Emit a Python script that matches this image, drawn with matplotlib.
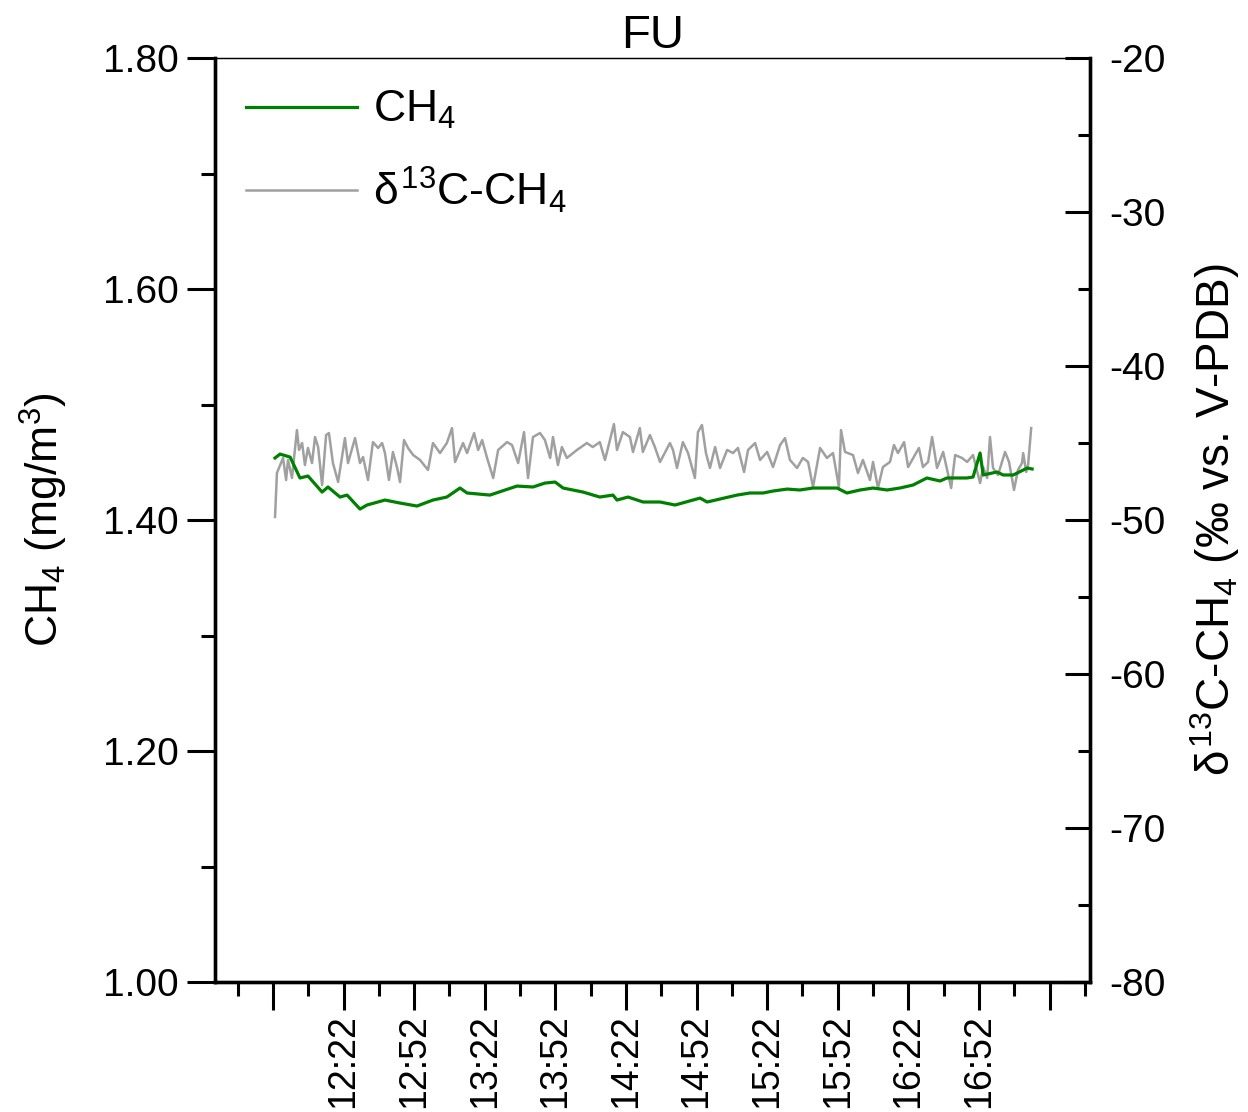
import numpy as np
import matplotlib
matplotlib.use("Agg")
import matplotlib.pyplot as plt
from matplotlib.ticker import FixedLocator, FuncFormatter

plt.rcParams["font.family"] = ["Liberation Sans", "DejaVu Sans"]
plt.rcParams["mathtext.fontset"] = "custom"
plt.rcParams["mathtext.rm"] = "Liberation Sans"
plt.rcParams["mathtext.it"] = "Liberation Sans"
plt.rcParams["axes.unicode_minus"] = False

# clock minutes since midnight of first sample reference (11:52)
start_min = 712

# delta13C-CH4 (per mil), minutes after 11:52
d13_minutes = [0.9, 1.7, 4.3, 5.6, 6.4, 8.1, 10.2, 11.1, 12.4, 13.6, 14.9, 16.6, 17.9, 19.2,
               20.9, 22.6, 23.8, 25.5, 27.7, 30.6, 31.9, 34.9, 37.0, 38.3, 40.4, 42.5, 44.7,
               46.4, 47.6, 49.3, 51.0, 52.7, 54.0, 55.7, 57.4, 59.6, 62.5, 65.9, 68.0, 71.0,
               73.9, 76.1, 77.4, 80.8, 82.5, 85.5, 87.2, 88.9, 91.0, 93.6, 95.7, 99.5, 101.6,
               104.2, 106.7, 108.4, 110.5, 113.5, 115.6, 117.8, 119.0, 121.1, 122.8, 124.9,
               129.2, 133.4, 135.9, 138.9, 141.1, 144.9, 146.2, 148.7, 151.7, 153.0, 155.9,
               157.2, 160.2, 162.3, 164.5, 168.7, 170.0, 171.7, 174.2, 176.4, 179.3, 180.6,
               182.3, 184.0, 185.7, 187.9, 190.0, 193.0, 195.5, 197.6, 200.2, 201.9, 204.9,
               207.0, 210.0, 212.5, 215.5, 217.6, 219.7, 222.7, 225.2, 227.4, 229.5, 232.5,
               235.4, 238.0, 240.5, 241.4, 243.1, 246.5, 248.6, 250.7, 253.7, 255.0, 257.1,
               259.2, 262.2, 263.9, 265.6, 268.2, 269.9, 272.8, 274.5, 276.2, 278.4, 280.1,
               282.2, 284.8, 288.2, 289.9, 292.8, 295.0, 297.5, 300.5, 301.8, 303.5, 304.7,
               306.0, 308.1, 311.1, 312.8, 314.9, 316.6, 318.3, 318.8, 320.1, 320.9, 322.2]
d13_values = [-49.80, -46.95, -45.97, -47.40, -46.10, -47.27, -44.16, -45.45, -45.00, -46.43,
              -45.32, -46.30, -44.61, -45.26, -47.73, -44.48, -44.35, -46.30, -47.53, -44.68,
              -46.30, -44.68, -46.30, -45.91, -47.40, -44.94, -45.32, -45.00, -45.65, -47.40,
              -45.58, -46.56, -47.53, -44.81, -45.32, -45.78, -46.10, -46.75, -45.00, -45.65,
              -45.00, -44.03, -46.23, -45.00, -45.65, -44.35, -45.45, -44.81, -45.97, -47.27,
              -45.45, -44.94, -45.13, -46.30, -44.29, -47.27, -44.61, -44.35, -44.81, -45.97,
              -44.61, -46.43, -45.26, -45.97, -45.45, -45.00, -45.26, -44.94, -46.10, -43.77,
              -45.45, -44.29, -44.61, -45.58, -44.03, -45.58, -44.48, -45.26, -46.23, -45.00,
              -45.45, -46.62, -44.94, -45.65, -47.27, -44.29, -43.83, -45.65, -46.62, -45.26,
              -46.62, -45.45, -45.65, -45.32, -46.88, -45.45, -45.00, -46.10, -45.58, -46.56,
              -45.13, -44.68, -46.10, -46.62, -45.97, -46.23, -47.86, -45.32, -45.97, -45.65,
              -47.86, -44.16, -45.58, -45.78, -46.95, -46.10, -47.40, -46.23, -47.92, -46.56,
              -46.23, -45.13, -45.65, -44.94, -46.56, -45.78, -45.32, -46.56, -46.23, -44.61,
              -46.62, -45.58, -47.92, -45.78, -45.97, -46.23, -45.78, -47.60, -46.56, -47.27,
              -44.61, -46.62, -47.08, -45.58, -46.23, -48.05, -46.75, -46.30, -45.65, -46.88,
              -46.43, -44.03]

# CH4 concentration (mg/m3), minutes after 11:52
ch4_minutes = [0.9, 3.0, 7.3, 11.5, 14.9, 20.9, 23.4, 28.5, 31.5, 37.0, 40.0, 47.6, 54.0,
               61.2, 68.0, 73.9, 79.5, 82.5, 92.2, 103.7, 110.5, 115.6, 119.9, 123.3, 131.8,
               138.9, 144.5, 146.2, 150.9, 157.3, 164.5, 170.9, 181.5, 184.5, 197.2, 202.7,
               208.3, 212.5, 218.5, 223.9, 229.5, 239.7, 243.9, 249.5, 255.0, 261.0, 266.4,
               272.0, 277.9, 283.5, 286.4, 294.9, 297.5, 300.5, 301.8, 307.7, 310.3, 314.6,
               320.5, 322.6]
ch4_values = [1.4537, 1.4571, 1.4545, 1.4364, 1.4381, 1.4242, 1.4286, 1.4199, 1.4216, 1.4095,
              1.4130, 1.4173, 1.4147, 1.4121, 1.4173, 1.4199, 1.4277, 1.4234, 1.4216, 1.4294,
              1.4286, 1.4320, 1.4329, 1.4277, 1.4242, 1.4199, 1.4216, 1.4173, 1.4199, 1.4156,
              1.4156, 1.4130, 1.4190, 1.4156, 1.4216, 1.4234, 1.4234, 1.4251, 1.4268, 1.4260,
              1.4277, 1.4277, 1.4234, 1.4260, 1.4277, 1.4260, 1.4277, 1.4303, 1.4364, 1.4338,
              1.4364, 1.4364, 1.4372, 1.4580, 1.4390, 1.4416, 1.4390, 1.4390, 1.4450, 1.4442]

tick_labels = ["", "12:22", "12:52", "13:22", "13:52", "14:22", "14:52",
               "15:22", "15:52", "16:22", "16:52", ""]

t_d13 = start_min + np.array(d13_minutes)
t_ch4 = start_min + np.array(ch4_minutes)

fig = plt.figure(figsize=(12.48, 11.12), dpi=100)
ax = fig.add_axes([0.1723, 0.1169, 0.7011, 0.8309])
ax2 = ax.twinx()

ln2, = ax2.plot(t_d13, d13_values, color="#a0a0a0", linewidth=1.8)
ln1, = ax.plot(t_ch4, ch4_values, color="#008000", linewidth=2.3)
ax.set_zorder(ax2.get_zorder() + 1)
ax.patch.set_visible(False)

ax.set_xlim(687.4, 1059.2)
ax.set_ylim(1.0, 1.8)
ax2.set_ylim(-80, -20)

major_x = [start_min + 30 * k for k in range(len(tick_labels))]
minor_x = [start_min - 15 + 30 * k for k in range(len(tick_labels) + 1)]
ax.xaxis.set_major_locator(FixedLocator(major_x))
ax.xaxis.set_minor_locator(FixedLocator(minor_x))
ax.set_xticklabels(tick_labels, rotation=90)

ax.yaxis.set_major_locator(FixedLocator([1.0, 1.2, 1.4, 1.6, 1.8]))
ax.yaxis.set_minor_locator(FixedLocator([1.1, 1.3, 1.5, 1.7]))
ax.yaxis.set_major_formatter(FuncFormatter(lambda v, p: f"{v:.2f}"))
ax2.yaxis.set_major_locator(FixedLocator(list(range(-80, -19, 10))))
ax2.yaxis.set_minor_locator(FixedLocator(list(range(-75, -20, 10))))

fs = 28
ax.tick_params(axis="both", which="major", length=20, width=2.2, direction="out",
               labelsize=fs, pad=6)
ax.tick_params(axis="both", which="minor", length=10, width=2.2, direction="out")
ax.tick_params(axis="x", which="major", labelsize=27, pad=3)
ax2.tick_params(axis="y", which="major", length=18, width=2.2, direction="in",
                labelsize=fs, pad=14)
ax2.tick_params(axis="y", which="minor", length=9, width=2.2, direction="in")

for a in (ax, ax2):
    for side in ("left", "right", "bottom"):
        a.spines[side].set_linewidth(2.4)
    a.spines["top"].set_linewidth(0.9)

ax.set_ylabel(r"CH$_4$ (mg/m$^3$)", fontsize=32, labelpad=24)
ax2.set_ylabel(r"$\delta^{13}$C-CH$_4$ (‰ vs. V-PDB)", fontsize=33, labelpad=16)
ax.set_title("FU", fontsize=34, pad=2)

leg = ax.legend([ln1, ln2], [r"CH$_4$", r"$\delta^{13}$C-CH$_4$"], loc="upper left",
                fontsize=32, frameon=False, handlelength=2.5, handletextpad=0.35,
                labelspacing=0.75, borderaxespad=0.3, bbox_to_anchor=(0.0, 1.0))

fig.savefig("out.png", dpi=100)
